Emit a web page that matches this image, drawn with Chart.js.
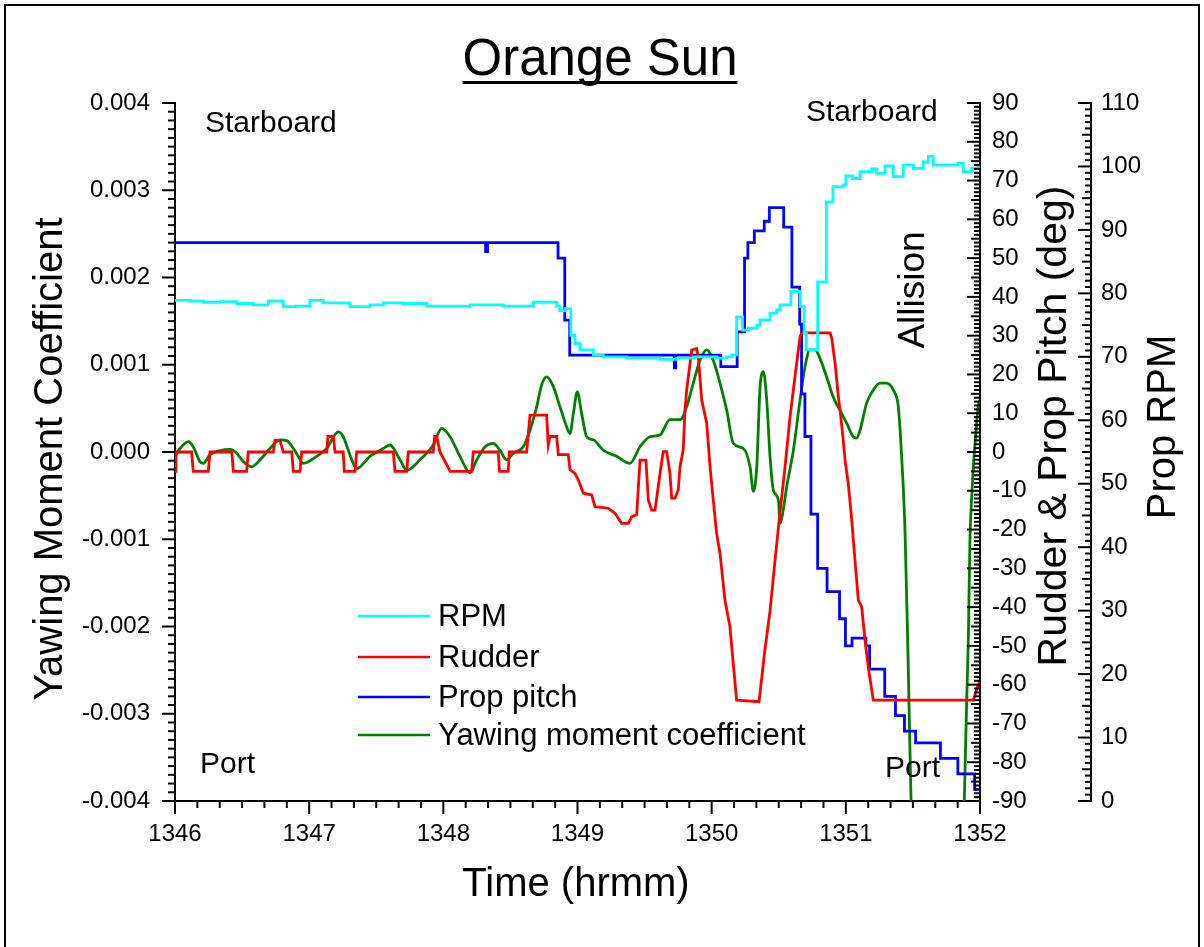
<!DOCTYPE html>
<html>
<head>
<meta charset="utf-8">
<title>Orange Sun</title>
<script src="https://cdn.jsdelivr.net/npm/chart.js@4.4.1/dist/chart.umd.min.js"></script>
<style>
  html, body { margin: 0; padding: 0; background: #fff; }
  canvas { display: block; }
</style>
</head>
<body>
<canvas id="orangeSun" width="1204" height="947"></canvas>
<script>
const FONT = '"Liberation Sans", Arial, Helvetica, sans-serif';

// time in hrmm (minutes as decimals)
const timeTickLabels = ['1346', '1347', '1348', '1349', '1350', '1351', '1352'];

// Prop RPM (right outer axis), stepped signal
const rpmTime = [1346.000, 1346.112, 1346.211, 1346.335, 1346.460, 1346.584, 1346.695, 1346.807, 1346.907,
  1347.006, 1347.105, 1347.304, 1347.453, 1347.553, 1347.702, 1347.876, 1348.025, 1348.199, 1348.447,
  1348.671, 1348.845, 1348.869, 1348.907, 1348.950, 1348.981, 1349.019, 1349.118, 1349.192, 1349.367,
  1349.615, 1349.739, 1349.863, 1350.037, 1350.112, 1350.150, 1350.186, 1350.230, 1350.273, 1350.336,
  1350.361, 1350.435, 1350.485, 1350.510, 1350.590, 1350.660, 1350.690, 1350.705, 1350.790, 1350.855,
  1350.904, 1350.981, 1351.001, 1351.051, 1351.106, 1351.193, 1351.230, 1351.292, 1351.354, 1351.428,
  1351.503, 1351.577, 1351.615, 1351.652, 1351.838, 1351.875, 1351.938, 1351.987, 1352.000];
const rpmValue = [78.9, 78.8, 78.6, 78.7, 78.4, 78.2, 78.8, 77.9, 78.0,
  78.9, 78.5, 77.9, 78.2, 78.5, 78.4, 78.0, 78.0, 78.2, 78.0,
  78.6, 78.0, 77.3, 77.6, 73.4, 72.1, 71.1, 70.3, 70.0, 69.8,
  69.6, 69.8, 70.0, 69.8, 70.0, 70.3, 76.3, 74.2, 74.5, 75.0,
  75.8, 76.9, 77.4, 78.2, 80.3, 77.9, 73.7, 71.1, 81.8, 94.4,
  96.8, 97.1, 98.5, 98.1, 99.2, 99.6, 98.9, 100.1, 98.4, 100.2,
  99.7, 100.7, 101.6, 100.2, 100.5, 99.2, 99.7, 100.0, 100.0];

// Rudder angle (deg)
const rudderTime = [1346.000, 1346.007, 1346.124, 1346.136, 1346.248, 1346.261, 1346.423, 1346.435, 1346.534,
  1346.546, 1346.733, 1346.745, 1346.783, 1346.807, 1346.870, 1346.882, 1346.932, 1346.944, 1347.131,
  1347.140, 1347.180, 1347.193, 1347.254, 1347.262, 1347.342, 1347.354, 1347.627, 1347.640, 1347.727,
  1347.739, 1347.925, 1347.935, 1347.951, 1347.975, 1348.037, 1348.050, 1348.211, 1348.223, 1348.410,
  1348.418, 1348.484, 1348.492, 1348.621, 1348.646, 1348.770, 1348.782, 1348.795, 1348.845, 1348.857,
  1348.931, 1348.944, 1348.981, 1349.006, 1349.043, 1349.106, 1349.130, 1349.229, 1349.279, 1349.329,
  1349.379, 1349.404, 1349.441, 1349.466, 1349.510, 1349.528, 1349.553, 1349.578, 1349.615, 1349.639,
  1349.665, 1349.689, 1349.702, 1349.727, 1349.751, 1349.764, 1349.788, 1349.801, 1349.814, 1349.851,
  1349.888, 1349.900, 1349.926, 1349.963, 1349.988, 1350.012, 1350.037, 1350.062, 1350.099, 1350.136,
  1350.161, 1350.186, 1350.353, 1350.397, 1350.435, 1350.472, 1350.509, 1350.547, 1350.584, 1350.621,
  1350.659, 1350.672, 1350.883, 1350.895, 1350.920, 1350.944, 1350.957, 1350.981, 1350.994, 1351.018,
  1351.044, 1351.068, 1351.093, 1351.118, 1351.143, 1351.167, 1351.193, 1351.205, 1351.950, 1351.987,
  1352.000];
const rudderDeg = [-5, 0, 0, -5, -5, 0, 0, -5, -5,
  0, 0, 3, 3, 0, 0, -5, -5, 0, 0,
  4, 4, 0, 0, -5, -5, 0, 0, -5, -5,
  0, 0, 4, 4, 0, -4, -5, -5, 0, 0,
  -5, -5, 0, 0, 9.5, 9.5, 1.8, 4, 4, -0.7,
  -0.7, -4.6, -5.5, -7.2, -10.6, -11.1, -14.1, -14.5, -15.8, -18.4,
  -18.4, -16.7, -16.2, -2.1, -2.1, -12.4, -15, -15, -5.5, 0.1,
  0.1, -5.5, -11.9, -11.9, -9.8, -3.8, 0.5, 10.8, 16, 26.3,
  26.7, 24.6, 13.4, 7.4, -3.8, -12.4, -21, -26.1, -38.2, -45,
  -54.5, -64, -64.4, -51, -41, -28, -15.7, -3.8, 9, 19.4,
  29.8, 30.7, 30.7, 29.3, 22.9, 14.3, 10.8, 3.1, -2.1, -8.1,
  -17.5, -27.8, -38.2, -39.9, -48.5, -55.4, -61.4, -64, -64, -60.1,
  -59];

// Prop pitch (deg), stepped signal
const pitchTime = [1346.000, 1348.315, 1348.330, 1348.855, 1348.905, 1348.942, 1349.722, 1349.732, 1350.068,
  1350.190, 1350.245, 1350.270, 1350.318, 1350.392, 1350.430, 1350.537, 1350.598, 1350.656, 1350.670,
  1350.695, 1350.740, 1350.790, 1350.860, 1350.953, 1350.997, 1351.046, 1351.150, 1351.177, 1351.290,
  1351.370, 1351.437, 1351.520, 1351.705, 1351.835, 1351.960, 1352.000];
const pitchDeg = [54, 51.7, 54, 50, 34, 25, 21.7, 25, 22,
  31, 50, 54, 57, 59.5, 63, 58, 42.5, 33, 15,
  4, -16, -30, -36, -43, -50, -48, -50, -56, -63,
  -68, -72, -75, -79, -83, -87, -87];

// Yawing moment coefficient (left axis)
const yawTime = [1346.000, 1346.037, 1346.099, 1346.136, 1346.186, 1346.211, 1346.261, 1346.335, 1346.410,
  1346.460, 1346.509, 1346.572, 1346.634, 1346.708, 1346.783, 1346.833, 1346.882, 1346.919, 1346.956,
  1347.056, 1347.131, 1347.217, 1347.254, 1347.317, 1347.354, 1347.453, 1347.553, 1347.602, 1347.677,
  1347.727, 1347.826, 1347.925, 1347.988, 1348.050, 1348.124, 1348.199, 1348.249, 1348.311, 1348.372,
  1348.422, 1348.472, 1348.521, 1348.596, 1348.646, 1348.696, 1348.733, 1348.770, 1348.820, 1348.869,
  1348.919, 1348.944, 1348.969, 1348.998, 1349.031, 1349.068, 1349.118, 1349.192, 1349.292, 1349.391,
  1349.466, 1349.540, 1349.615, 1349.689, 1349.764, 1349.814, 1349.863, 1349.913, 1349.963, 1350.012,
  1350.062, 1350.112, 1350.161, 1350.236, 1350.286, 1350.311, 1350.336, 1350.361, 1350.386, 1350.410,
  1350.435, 1350.460, 1350.497, 1350.510, 1350.534, 1350.559, 1350.609, 1350.659, 1350.696, 1350.733,
  1350.771, 1350.808, 1350.857, 1350.906, 1350.956, 1351.006, 1351.055, 1351.080, 1351.106, 1351.155,
  1351.205, 1351.254, 1351.304, 1351.354, 1351.391, 1351.416, 1351.441, 1351.463, 1351.486, 1351.516,
  1351.702, 1351.851, 1351.883, 1351.901, 1351.913, 1351.925, 1351.937, 1351.950, 1351.963, 1351.987,
  1352.000];
const yawCoef = [-0.00005, 0.00004, 0.00012, 0.00006, -0.00011, -0.00013, -0.00003, 0.000015, 0.00003,
  -0.000015, -0.00011, -0.00017, -0.00009, 0.00004, 0.00014, 0.00013, 0.00004, -0.00005, -0.00013,
  -0.00005, 0.00004, 0.00023, 0.000175, -0.00009, -0.00019, -0.00005, 0.00004, 0.00008, -0.00009,
  -0.00021, -0.00009, 0.00008, 0.00027, 0.000175, -0.00005, -0.00024, -0.00009, 0.00006, 0.0001,
  0.00002, -0.00009, -0.000015, 0.00006, 0.00025, 0.00052, 0.00077, 0.00086, 0.00075, 0.00052,
  0.00029, 0.00021, 0.00044, 0.00069, 0.00044, 0.000175, 0.00014, 0.00002, -0.00005, -0.00013,
  0.00006, 0.000175, 0.000195, 0.00037, 0.00037, 0.00052, 0.00079, 0.00105, 0.00117, 0.00105,
  0.00079, 0.00048, 0.0001, 0.00004, -0.00017, -0.00045, -0.00017, 0.00075, 0.00092, 0.0006,
  -0.00005, -0.00044, -0.00055, -0.00082, -0.00066, -0.0004, 0.00002, 0.0006, 0.00098, 0.00117,
  0.00117, 0.00107, 0.00086, 0.00063, 0.00048, 0.00033, 0.000175, 0.00016, 0.00025, 0.00056,
  0.00071, 0.00079, 0.00079, 0.00071, 0.00052, -0.00005, -0.0009, -0.0023, -0.004, -0.0055,
  -0.007, -0.0055, -0.00399, -0.00284, -0.00215, -0.00101, -0.00055, -0.00017, 0.0001, 0.00052,
  0.0006];

const toPoints = (xs, ys) => xs.map((x, i) => ({ x: x, y: ys[i] }));

const decorations = {
  id: 'decorations',
  afterDraw(chart) {
    const { ctx, chartArea: area, scales } = chart;
    ctx.save();
    ctx.fillStyle = '#000';
    ctx.strokeStyle = '#000';

    // outer frame of the figure
    ctx.lineWidth = 2;
    ctx.strokeRect(5, 5, 1194, 960);

    // underlined title
    ctx.font = '51px ' + FONT;
    ctx.textAlign = 'center';
    ctx.textBaseline = 'alphabetic';
    ctx.fillText('Orange Sun', 600, 75);
    const tw = ctx.measureText('Orange Sun').width;
    ctx.fillRect(600 - tw / 2, 81, tw, 3);

    // major and minor tick marks
    const mark = (x1, y1, x2, y2) => {
      ctx.beginPath();
      ctx.moveTo(x1, y1);
      ctx.lineTo(x2, y2);
      ctx.stroke();
    };
    ctx.lineWidth = 2;
    for (let i = 0; i <= 36; i++) {
      const px = scales.x.getPixelForValue(1346 + i / 6);
      mark(px, area.bottom, px, area.bottom + (i % 6 ? 7 : 13));
    }
    for (let i = -40; i <= 40; i++) {
      const py = scales.y.getPixelForValue(i * 0.0001);
      mark(area.left, py, area.left - (i % 10 ? 7 : 13), py);
    }
    for (let i = -90; i <= 90; i++) {
      const py = scales.yDeg.getPixelForValue(i);
      mark(area.right, py, area.right - (i % 10 ? (i % 5 ? 6 : 9) : 13), py);
    }
    const rpmX = scales.yRpm.left;
    for (let i = 0; i <= 110; i++) {
      const py = scales.yRpm.getPixelForValue(i);
      mark(rpmX, py, rpmX - (i % 10 ? (i % 5 ? 6 : 9) : 13), py);
    }

    // axis titles
    const rotated = (text, x, y) => {
      ctx.save();
      ctx.translate(x, y);
      ctx.rotate(-Math.PI / 2);
      ctx.fillText(text, 0, 0);
      ctx.restore();
    };
    ctx.font = '40px ' + FONT;
    ctx.textAlign = 'center';
    ctx.textBaseline = 'middle';
    rotated('Yawing Moment Coefficient', 51, 459);
    rotated('Prop RPM', 1164, 427);
    ctx.fillText('Time (hrmm)', 576, 885);
    ctx.font = '41px ' + FONT;
    rotated('Rudder & Prop Pitch (deg)', 1055, 426);

    ctx.font = '37px ' + FONT;
    rotated('Allision', 914, 290);

    // side labels
    ctx.font = '30px ' + FONT;
    ctx.textAlign = 'left';
    ctx.textBaseline = 'alphabetic';
    ctx.fillText('Starboard', 205, 132);
    ctx.fillText('Starboard', 806, 121);
    ctx.fillText('Port', 200, 773);
    ctx.fillText('Port', 885, 777);

    // legend
    const legendY = [616, 657, 697, 735];
    ctx.font = '31px ' + FONT;
    ctx.textBaseline = 'middle';
    chart.data.datasets.forEach((ds, i) => {
      ctx.strokeStyle = ds.borderColor;
      ctx.lineWidth = 2.5;
      mark(358, legendY[i], 430, legendY[i]);
      ctx.fillText(ds.label, 438, legendY[i] + 1);
    });
    ctx.restore();
  }
};

const tickFont = { family: FONT, size: 24 };

new Chart(document.getElementById('orangeSun'), {
  type: 'line',
  data: {
    datasets: [
      {
        label: 'RPM',
        data: toPoints(rpmTime, rpmValue),
        yAxisID: 'yRpm',
        borderColor: '#00FFFF',
        stepped: true
      },
      {
        label: 'Rudder',
        data: toPoints(rudderTime, rudderDeg),
        yAxisID: 'yDeg',
        borderColor: '#FF0000'
      },
      {
        label: 'Prop pitch',
        data: toPoints(pitchTime, pitchDeg),
        yAxisID: 'yDeg',
        borderColor: '#0000FF',
        stepped: true
      },
      {
        label: 'Yawing moment coefficient',
        data: toPoints(yawTime, yawCoef),
        yAxisID: 'y',
        borderColor: '#008000',
        cubicInterpolationMode: 'monotone'
      }
    ]
  },
  options: {
    responsive: false,
    devicePixelRatio: 1,
    animation: false,
    events: [],
    layout: { padding: { top: 103, left: 0, right: 0, bottom: 0 } },
    elements: {
      point: { radius: 0 },
      line: { borderWidth: 2.8, tension: 0, fill: false }
    },
    plugins: {
      legend: { display: false },
      title: { display: false },
      tooltip: { enabled: false }
    },
    scales: {
      x: {
        type: 'linear',
        position: 'bottom',
        min: 1346,
        max: 1352,
        grid: { display: false, drawTicks: false },
        border: { display: true, color: '#000', width: 2 },
        ticks: {
          stepSize: 1,
          padding: 19,
          color: '#000',
          font: tickFont,
          maxRotation: 0,
          autoSkip: false,
          callback: (v, i) => timeTickLabels[i]
        },
        afterFit: (s) => { s.height = 146; }
      },
      y: {
        type: 'linear',
        position: 'left',
        min: -0.004,
        max: 0.004,
        grid: { display: false, drawTicks: false },
        border: { display: true, color: '#000', width: 2 },
        ticks: {
          stepSize: 0.001,
          padding: 25,
          color: '#000',
          font: tickFont,
          autoSkip: false,
          callback: (v) => Number(v).toFixed(3)
        },
        afterFit: (s) => { s.width = 175; }
      },
      yDeg: {
        type: 'linear',
        position: 'right',
        min: -90,
        max: 90,
        grid: { display: false, drawTicks: false },
        border: { display: true, color: '#000', width: 2 },
        ticks: {
          stepSize: 10,
          padding: 12,
          color: '#000',
          font: tickFont,
          autoSkip: false,
          callback: (v) => String(Math.round(v))
        },
        afterFit: (s) => { s.width = 111; }
      },
      yRpm: {
        type: 'linear',
        position: 'right',
        min: 0,
        max: 110,
        grid: { display: false, drawTicks: false },
        border: { display: true, color: '#000', width: 2 },
        ticks: {
          stepSize: 10,
          padding: 10,
          color: '#000',
          font: tickFont,
          autoSkip: false,
          callback: (v) => String(Math.round(v))
        },
        afterFit: (s) => { s.width = 113; }
      }
    }
  },
  plugins: [decorations]
});
</script>
</body>
</html>
